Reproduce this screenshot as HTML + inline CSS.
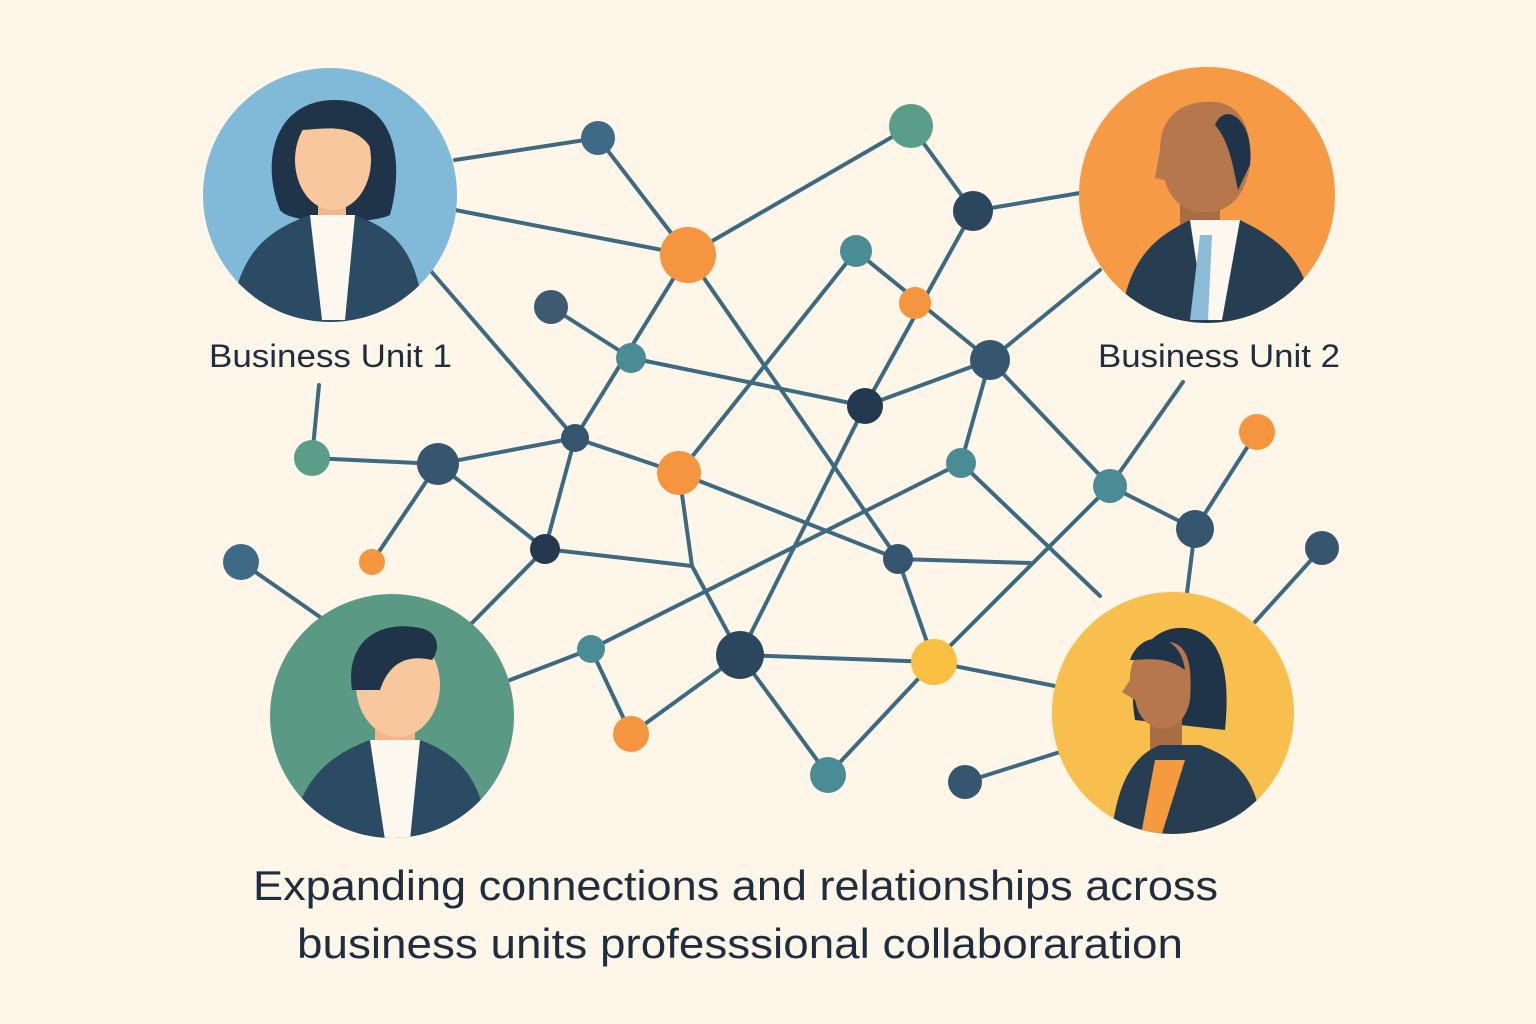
<!DOCTYPE html>
<html><head><meta charset="utf-8"><style>
html,body{margin:0;padding:0;background:#fdf6e9;}
svg{display:block}
text{font-family:"Liberation Sans",sans-serif;fill:#1f2d3f}
</style></head><body>
<svg width="1536" height="1024" viewBox="0 0 1536 1024" xmlns="http://www.w3.org/2000/svg">
<rect width="1536" height="1024" fill="#fdf6e9"/>
<defs>
<clipPath id="c1"><circle cx="330" cy="195" r="127"/></clipPath>
<clipPath id="c2"><circle cx="1207" cy="195" r="128"/></clipPath>
<clipPath id="c3"><circle cx="392" cy="716" r="122"/></clipPath>
<clipPath id="c4"><circle cx="1173" cy="713" r="121"/></clipPath>
</defs>
<g stroke="#3d6a80" stroke-width="4" fill="none" stroke-linecap="round">
<line x1="455" y1="160" x2="598" y2="138"/>
<line x1="598" y1="138" x2="688" y2="255"/>
<line x1="455" y1="210" x2="688" y2="255"/>
<line x1="688" y1="255" x2="911" y2="126"/>
<line x1="911" y1="126" x2="973" y2="211"/>
<line x1="973" y1="211" x2="1080" y2="193"/>
<line x1="973" y1="211" x2="865" y2="406"/>
<line x1="856" y1="251" x2="990" y2="360"/>
<line x1="990" y1="360" x2="1100" y2="270"/>
<line x1="856" y1="251" x2="679" y2="473"/>
<line x1="688" y1="255" x2="575" y2="438"/>
<line x1="688" y1="255" x2="898" y2="559"/>
<line x1="551" y1="307" x2="631" y2="358"/>
<line x1="631" y1="358" x2="865" y2="406"/>
<line x1="865" y1="406" x2="990" y2="360"/>
<line x1="990" y1="360" x2="961" y2="463"/>
<line x1="990" y1="360" x2="1110" y2="486"/>
<line x1="865" y1="406" x2="740" y2="655"/>
<line x1="430" y1="270" x2="575" y2="438"/>
<line x1="575" y1="438" x2="438" y2="464"/>
<line x1="438" y1="464" x2="312" y2="458"/>
<line x1="312" y1="458" x2="319" y2="385"/>
<line x1="438" y1="464" x2="372" y2="562"/>
<line x1="438" y1="464" x2="545" y2="549"/>
<line x1="575" y1="438" x2="545" y2="549"/>
<line x1="575" y1="438" x2="679" y2="473"/>
<line x1="679" y1="473" x2="898" y2="559"/>
<line x1="545" y1="549" x2="692" y2="566"/>
<line x1="591" y1="649" x2="961" y2="463"/>
<line x1="679" y1="473" x2="692" y2="566"/>
<line x1="692" y1="566" x2="740" y2="655"/>
<line x1="545" y1="549" x2="470" y2="625"/>
<line x1="241" y1="562" x2="320" y2="617"/>
<line x1="591" y1="649" x2="510" y2="680"/>
<line x1="591" y1="649" x2="631" y2="734"/>
<line x1="631" y1="734" x2="740" y2="655"/>
<line x1="740" y1="655" x2="934" y2="662"/>
<line x1="740" y1="655" x2="828" y2="775"/>
<line x1="828" y1="775" x2="934" y2="662"/>
<line x1="934" y1="662" x2="1055" y2="686"/>
<line x1="898" y1="559" x2="934" y2="662"/>
<line x1="898" y1="559" x2="1030" y2="563"/>
<line x1="961" y1="463" x2="1100" y2="596"/>
<line x1="1110" y1="486" x2="934" y2="662"/>
<line x1="1110" y1="486" x2="1195" y2="529"/>
<line x1="1110" y1="486" x2="1183" y2="382"/>
<line x1="1195" y1="529" x2="1257" y2="432"/>
<line x1="1195" y1="529" x2="1187" y2="593"/>
<line x1="1322" y1="548" x2="1255" y2="622"/>
<line x1="965" y1="782" x2="1060" y2="752"/>
</g>
<circle cx="330" cy="195" r="127" fill="#80bad8"/>
<g clip-path="url(#c1)">
<path d="M280 210 C260 160 275 100 335 100 C395 100 405 160 390 215 C370 225 290 225 280 210Z" fill="#1f3448"/>
<rect x="318" y="180" width="28" height="45" fill="#f3b58c"/>
<ellipse cx="333" cy="160" rx="38" ry="50" fill="#f8c79d"/>
<path d="M300 130 C310 100 370 100 372 150 C355 120 320 130 300 130Z" fill="#1f3448"/>
<path d="M230 330 C235 250 270 230 310 215 L355 215 C395 230 420 250 425 330Z" fill="#2b4a63"/>
<path d="M310 215 L355 215 L345 320 L322 320Z" fill="#fdf8ef"/>
</g>
<circle cx="1207" cy="195" r="128" fill="#f79a45"/>
<g clip-path="url(#c2)">
<rect x="1180" y="170" width="40" height="60" fill="#a86d45"/>
<path d="M1160 150 C1160 110 1190 100 1215 102 C1245 105 1252 135 1250 165 C1245 200 1225 215 1200 212 C1180 210 1168 195 1165 180 L1155 178 Z" fill="#b6774c"/>
<path d="M1215 125 C1225 100 1255 120 1250 165 L1238 190 C1232 160 1228 140 1215 125Z" fill="#1f3448"/>
<path d="M1120 330 C1125 255 1160 235 1190 220 L1240 220 C1280 240 1310 260 1315 330Z" fill="#263d52"/>
<path d="M1190 220 L1240 220 L1222 320 L1205 320Z" fill="#fdf8ef"/>
<path d="M1200 235 L1212 235 L1208 320 L1190 320Z" fill="#8dbcd9"/>
</g>
<circle cx="392" cy="716" r="122" fill="#5a9a85"/>
<g clip-path="url(#c3)">
<rect x="375" y="690" width="40" height="55" fill="#f3b58c"/>
<ellipse cx="398" cy="685" rx="42" ry="52" fill="#f8c79d"/>
<path d="M352 690 C345 640 380 620 420 628 C440 632 440 650 432 660 C410 655 390 660 380 690Z" fill="#1f3448"/>
<path d="M290 850 C295 780 330 755 370 740 L420 740 C460 755 485 780 490 850Z" fill="#2b4a63"/>
<path d="M370 740 L420 740 L410 840 L385 840Z" fill="#fdf8ef"/>
</g>
<circle cx="1173" cy="713" r="121" fill="#f8bf4e"/>
<g clip-path="url(#c4)">
<path d="M1135 720 C1125 660 1150 625 1185 628 C1225 632 1230 680 1225 730 Z" fill="#1f3448"/>
<rect x="1150" y="700" width="32" height="50" fill="#a86d45"/>
<path d="M1130 680 C1130 650 1150 640 1170 642 C1190 645 1192 670 1190 700 C1185 725 1170 730 1158 728 C1145 725 1138 715 1135 700 L1122 692 Z" fill="#b6774c"/>
<path d="M1130 660 C1140 630 1180 630 1185 670 C1165 655 1145 660 1130 660Z" fill="#1f3448"/>
<path d="M1110 850 C1115 780 1135 755 1160 745 L1200 745 C1240 760 1260 780 1265 850Z" fill="#263d52"/>
<path d="M1155 760 L1185 760 L1160 840 L1140 840Z" fill="#f59a3e"/>
</g>
<g>
<circle cx="598" cy="138" r="17" fill="#3e6a85"/>
<circle cx="911" cy="126" r="22" fill="#5a9e8a"/>
<circle cx="688" cy="255" r="28" fill="#f5953f"/>
<circle cx="973" cy="211" r="20" fill="#2c475d"/>
<circle cx="856" cy="251" r="16" fill="#4a8c95"/>
<circle cx="915" cy="303" r="16" fill="#f5953f"/>
<circle cx="551" cy="307" r="17" fill="#3e5a70"/>
<circle cx="631" cy="358" r="15" fill="#4a8c95"/>
<circle cx="990" cy="360" r="20" fill="#35566e"/>
<circle cx="865" cy="406" r="18" fill="#24394d"/>
<circle cx="575" cy="438" r="14" fill="#35566e"/>
<circle cx="438" cy="464" r="21" fill="#35566e"/>
<circle cx="312" cy="458" r="18" fill="#5a9e8a"/>
<circle cx="679" cy="473" r="22" fill="#f5953f"/>
<circle cx="961" cy="463" r="15" fill="#4a8c95"/>
<circle cx="1110" cy="486" r="17" fill="#4a8c95"/>
<circle cx="1257" cy="432" r="18" fill="#f5953f"/>
<circle cx="1195" cy="529" r="19" fill="#35566e"/>
<circle cx="1322" cy="548" r="17" fill="#35566e"/>
<circle cx="545" cy="549" r="15" fill="#24394d"/>
<circle cx="372" cy="562" r="13" fill="#f5953f"/>
<circle cx="241" cy="562" r="18" fill="#3e6a85"/>
<circle cx="898" cy="559" r="15" fill="#35566e"/>
<circle cx="591" cy="649" r="14" fill="#4a8c95"/>
<circle cx="740" cy="655" r="24" fill="#2c475d"/>
<circle cx="934" cy="662" r="23" fill="#f8bf40"/>
<circle cx="631" cy="734" r="18" fill="#f5953f"/>
<circle cx="828" cy="775" r="18" fill="#4a8c95"/>
<circle cx="965" cy="782" r="17" fill="#35566e"/>
</g>
<text x="209" y="367" font-size="32" textLength="243" lengthAdjust="spacingAndGlyphs">Business Unit 1</text>
<text x="1098" y="367" font-size="32" textLength="242" lengthAdjust="spacingAndGlyphs">Business Unit 2</text>
<text x="253" y="900" font-size="42" textLength="965" lengthAdjust="spacingAndGlyphs">Expanding connections and relationships across</text>
<text x="297" y="958" font-size="42" textLength="886" lengthAdjust="spacingAndGlyphs">business units  professsional collaboraration</text>
</svg>
</body></html>
